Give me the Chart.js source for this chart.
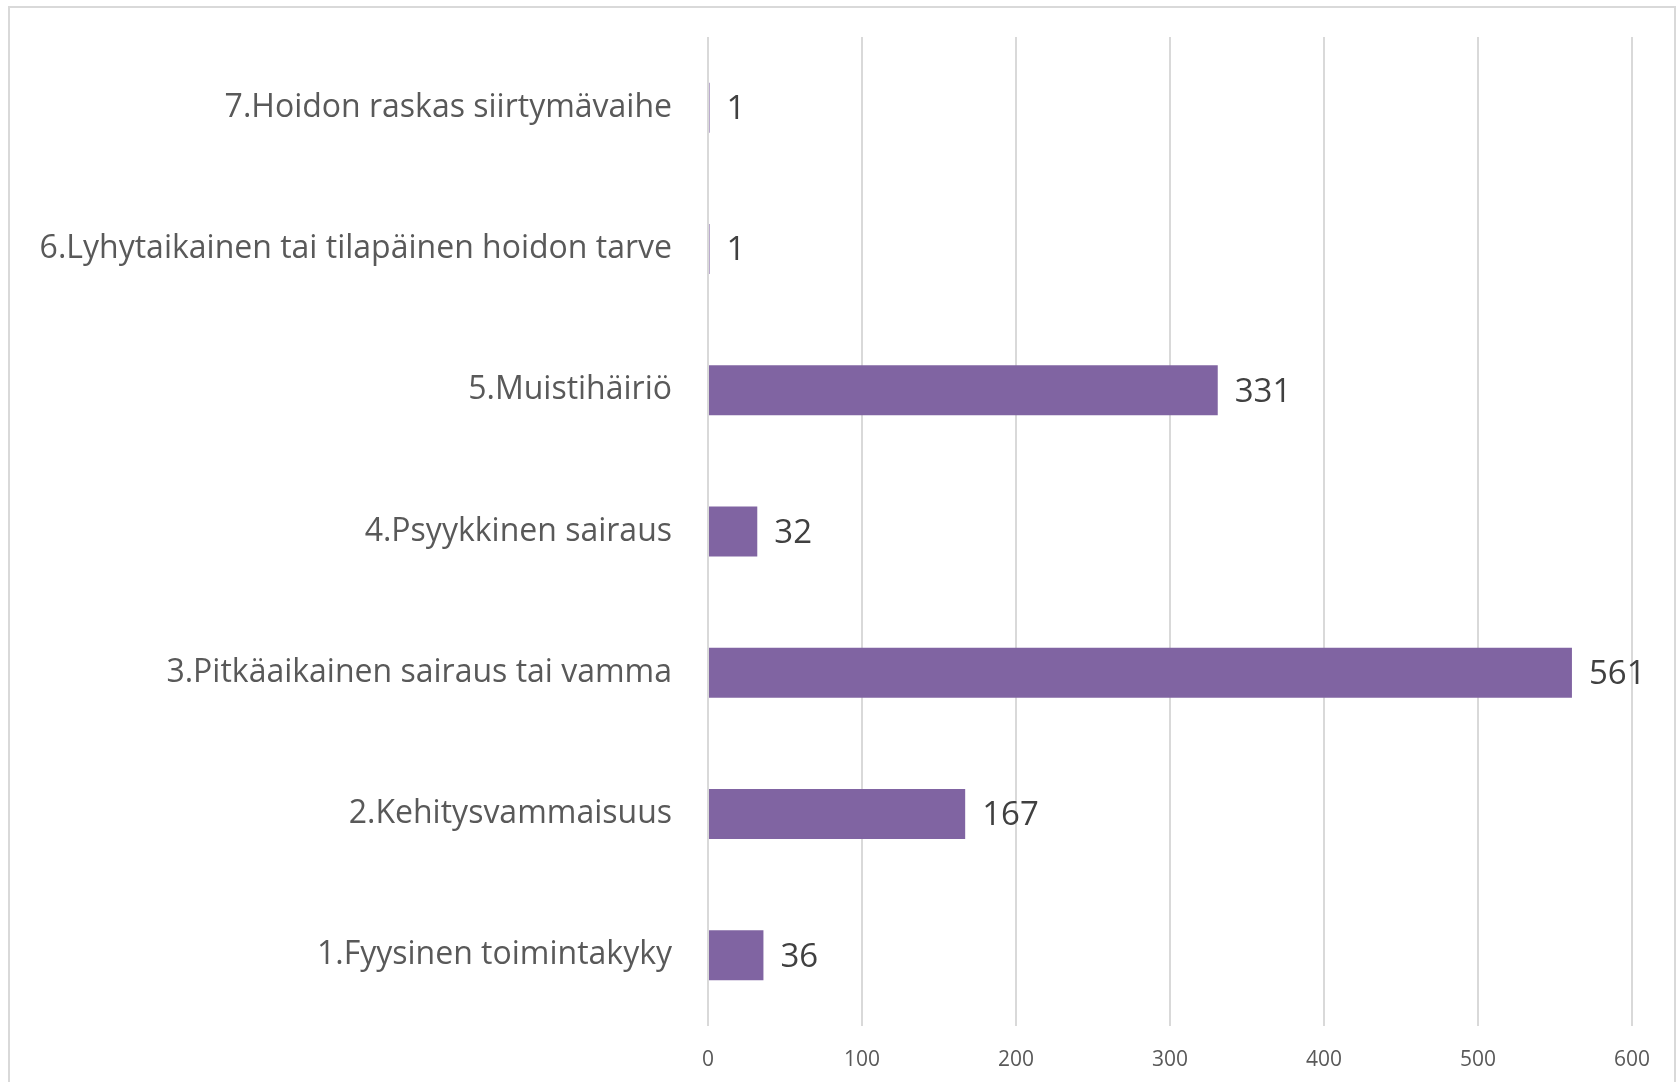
<!DOCTYPE html>
<html>
<head>
<meta charset="utf-8">
<script src="https://cdn.jsdelivr.net/npm/chart.js@4"></script>
<style>
  html, body { margin: 0; padding: 0; background: #fff; overflow: hidden; }
  #frame {
    position: absolute; left: 8px; top: 6px; width: 1668px; height: 1080px;
    border: 2px solid #d9d9d9; box-sizing: border-box;
  }
  #wrap { position: absolute; left: 0; top: 0; width: 1679px; height: 1082px; }
</style>
</head>
<body>
<div id="frame"></div>
<div id="wrap"><canvas id="chart"></canvas></div>
<script>
const categories = [
  "7.Hoidon raskas siirtymävaihe",
  "6.Lyhytaikainen tai tilapäinen hoidon tarve",
  "5.Muistihäiriö",
  "4.Psyykkinen sairaus",
  "3.Pitkäaikainen sairaus tai vamma",
  "2.Kehitysvammaisuus",
  "1.Fyysinen toimintakyky",
];
const counts = [1, 1, 331, 32, 561, 167, 36];
const xTicks = [0, 100, 200, 300, 400, 500, 600];

const font = "'Open Sans', 'Noto Sans', sans-serif";

const valueLabels = {
  id: "valueLabels",
  afterDatasetsDraw(chart) {
    const ctx = chart.ctx;
    const meta = chart.getDatasetMeta(0);
    ctx.save();
    ctx.font = `33px ${font}`;
    ctx.fillStyle = "#404040";
    ctx.textAlign = "left";
    ctx.textBaseline = "middle";
    meta.data.forEach((bar, i) => {
      ctx.fillText(String(counts[i]), bar.x + 17, bar.y + 2);
    });
    ctx.restore();
  },
};

new Chart(document.getElementById("chart"), {
  type: "bar",
  data: {
    labels: categories,
    datasets: [
      {
        data: counts,
        backgroundColor: "#8064a2",
        borderWidth: 0,
        barPercentage: 0.354,
        categoryPercentage: 1,
      },
    ],
  },
  options: {
    indexAxis: "y",
    responsive: true,
    maintainAspectRatio: false,
    animation: false,
    layout: { padding: { top: 37, right: 47, left: 0, bottom: 0 } },
    plugins: {
      legend: { display: false },
      tooltip: { enabled: false },
    },
    scales: {
      x: {
        min: 0,
        max: 600,
        afterBuildTicks(scale) {
          scale.ticks = xTicks.map((value) => ({ value }));
        },
        afterFit(scale) {
          scale.height = 56;
        },
        grid: { color: "#d9d9d9", lineWidth: 2, drawTicks: false },
        border: { display: false },
        ticks: {
          padding: 21,
          color: "#595959",
          font: { family: font, size: 21 },
        },
      },
      y: {
        afterFit(scale) {
          scale.width = 708;
          scale.paddingTop = 0;
          scale.paddingBottom = 0;
        },
        grid: { display: false, drawTicks: false },
        border: { display: false },
        ticks: {
          padding: 36,
          color: "#595959",
          font: { family: font, size: 32 },
        },
      },
    },
  },
  plugins: [valueLabels],
});
</script>
</body>
</html>
